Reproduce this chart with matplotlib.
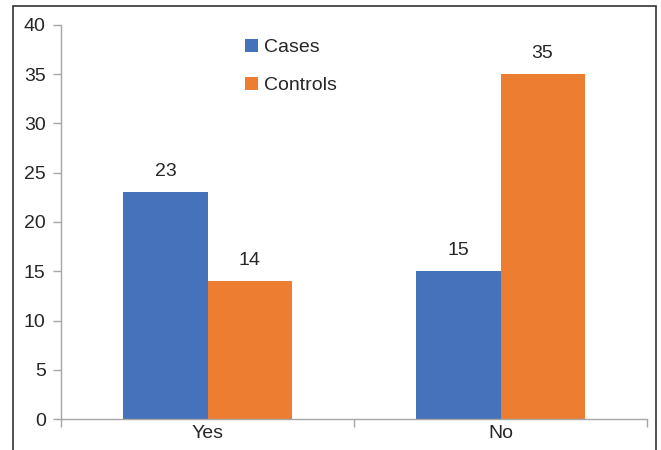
import matplotlib.pyplot as plt
from matplotlib.patches import Rectangle
import numpy as np

plt.rcParams['font.family'] = ['Liberation Sans', 'DejaVu Sans']

categories = ['Yes', 'No']
cases = [23, 15]
controls = [14, 35]

blue = '#4671BB'
orange = '#ED7D31'
axis_grey = '#A6A6A6'
text_col = '#262626'

fig = plt.figure(figsize=(6.61, 4.5), dpi=100)
ax = fig.add_axes([61 / 661, 31 / 450, 586 / 661, 394 / 450])

x = np.arange(len(categories))
width = 0.287
b1 = ax.bar(x - width / 2, cases, width, color=blue, label='Cases')
b2 = ax.bar(x + width / 2, controls, width, color=orange, label='Controls')

for bars in (b1, b2):
    ax.bar_label(bars, padding=9, fontsize=14, color=text_col)

ax.set_xlim(-0.5, 1.5)
ax.set_ylim(0, 40)
ax.set_yticks(range(0, 41, 5))
# category boundaries get the tick marks, the names sit between them
ax.set_xticks([-0.5, 0.5, 1.5])
ax.set_xticklabels(['', '', ''])
ax.set_xticks(x, minor=True)
ax.set_xticklabels(categories, minor=True)

ax.tick_params(axis='y', length=6, width=1, color=axis_grey, labelsize=14,
               labelcolor=text_col, pad=5)
ax.tick_params(axis='x', which='major', length=6, width=1, color=axis_grey)
ax.tick_params(axis='x', which='minor', length=0, labelsize=14,
               labelcolor=text_col, pad=4)

for side in ('top', 'right'):
    ax.spines[side].set_visible(False)
for side in ('left', 'bottom'):
    ax.spines[side].set_color(axis_grey)
    ax.spines[side].set_linewidth(1)

leg = ax.legend(loc='upper left', bbox_to_anchor=(0.30, 0.985), frameon=False,
                fontsize=14, handlelength=0.7, handleheight=0.7,
                handletextpad=0.3, labelspacing=1.05, borderaxespad=0)
for t in leg.get_texts():
    t.set_color(text_col)

# outer frame around the chart (cut off at the bottom)
fig.patches.append(Rectangle((13 / 661, -0.1), 643 / 661, 1.1 - 6 / 450,
                             transform=fig.transFigure, fill=False,
                             edgecolor='#333333', linewidth=1.2))

fig.savefig('out.png', dpi=100)
